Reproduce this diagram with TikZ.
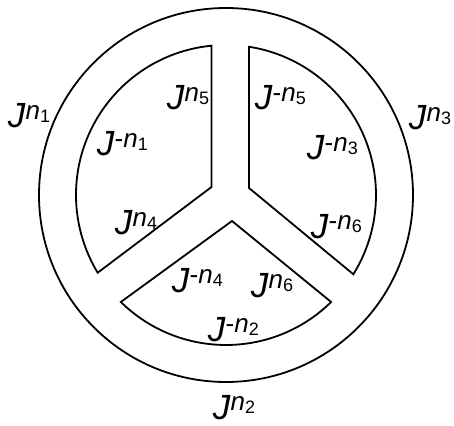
\documentclass[tikz,border=0pt]{standalone}
\usepackage{fontspec}
\setmainfont{Liberation Sans}
\usepackage{tikz}

\newcommand{\Jpow}[2]{\fontsize{35}{35}\selectfont\textit{J}\raisebox{8.5pt}{\fontsize{26}{26}\selectfont #1\textit{n}\raisebox{-3pt}{\fontsize{18}{18}\selectfont #2}}}

\begin{document}
\begin{tikzpicture}[x=1pt,y=1pt,line width=1.8pt,
  lab/.style={anchor=base west,inner sep=0pt}]
\useasboundingbox (-226,-230) rectangle (228,195);

\draw (0,0) circle (187);

\draw (-14.5,8) -- (95.55:150) arc (95.55:211.2:150) -- cycle;
\draw (23,7) -- (81.18:150) arc (81.18:-31.9:150) -- cycle;
\draw (6,-26) -- (225.5:150) arc (225.5:314.5:150) -- cycle;

\node[lab] (jn1) at (-219,67) {\Jpow{}{1}};
\node[lab] (jn3) at (182,65) {\Jpow{}{3}};
\node[lab] (jn2) at (-14,-224) {\Jpow{}{2}};

\node[lab] (jn5) at (-60,85) {\Jpow{}{5}};
\node[lab] (jmn1) at (-130,39) {\Jpow{-}{1}};
\node[lab] (jn4) at (-112,-40) {\Jpow{}{4}};

\node[lab] (jmn5) at (28,85) {\Jpow{-}{5}};
\node[lab] (jmn3) at (80,35) {\Jpow{-}{3}};
\node[lab] (jmn6) at (84,-43) {\Jpow{-}{6}};

\node[lab] (jmn4) at (-55,-97) {\Jpow{-}{4}};
\node[lab] (jn6) at (24,-102) {\Jpow{}{6}};
\node[lab] (jmn2) at (-19,-146) {\Jpow{-}{2}};
\end{tikzpicture}
\end{document}
